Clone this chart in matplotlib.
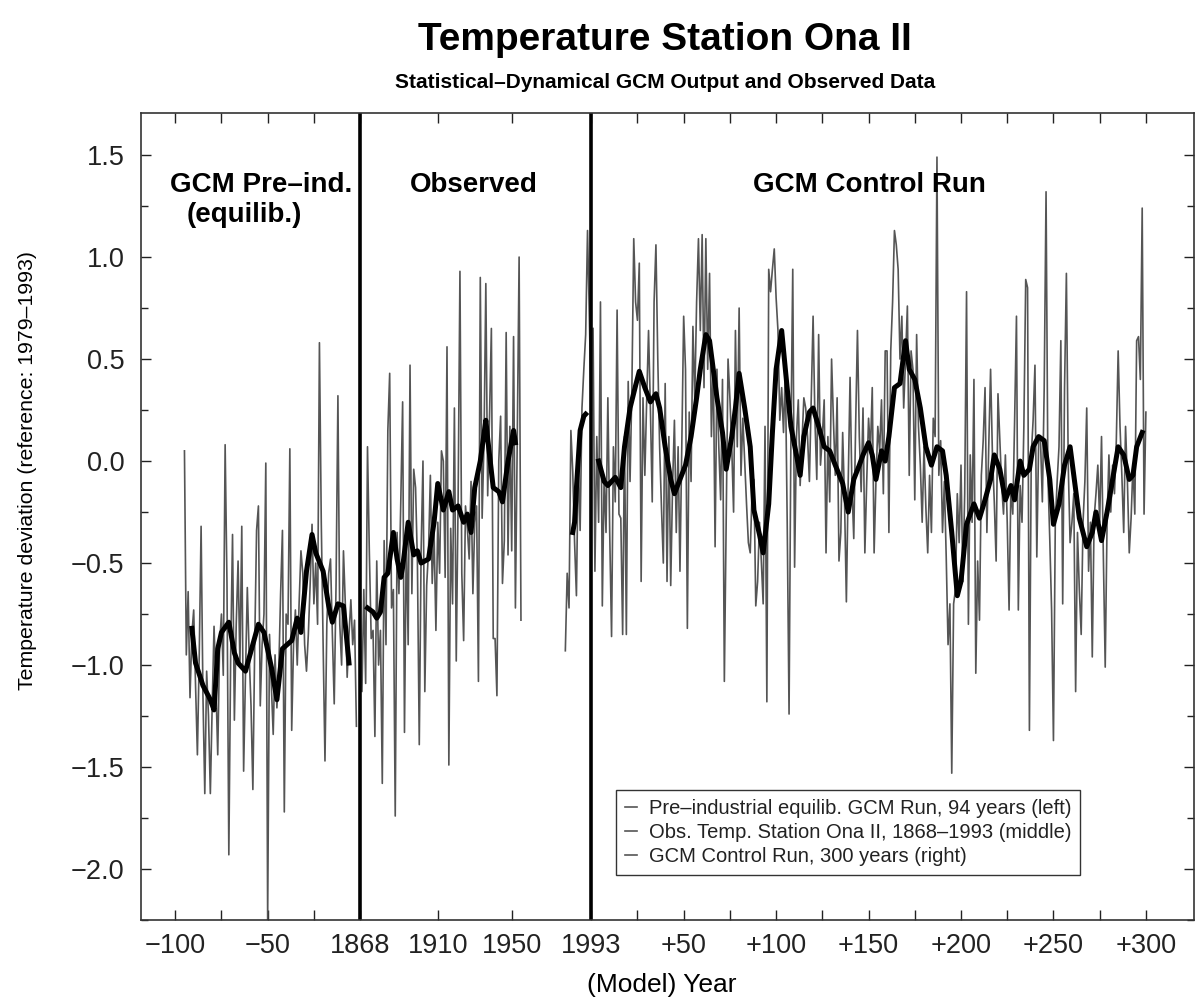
import numpy as np
import matplotlib.pyplot as plt

plt.rcParams['font.family'] = ['Liberation Sans', 'DejaVu Sans']

# pre-industrial equilibrium run, 94 years (plotted left of 1868)
pre_years = np.arange(-95, -1)
pre_vals = [0.05, -0.95, -0.64, -1.16, -0.85, -0.73, -1.10, -1.44, -0.95, -0.32,
            -1.15, -1.63, -1.03, -1.25, -1.63, -1.20, -0.81, -1.10, -1.44, -0.90,
            -0.75, -1.05, 0.08, -0.60, -1.93, -0.95, -0.36, -1.27, -0.80, -0.49,
            -1.00, -0.32, -1.52, -1.05, -0.62, -0.95, -1.20, -1.61, -0.90, -0.34,
            -0.22, -1.20, -0.90, -0.75, -0.01, -2.25, -0.85, -1.10, -1.34, -0.95,
            -1.21, -1.03, -0.65, -0.34, -1.72, -0.75, -0.80, 0.06, -1.32, -0.90,
            -0.73, -1.00, -0.70, -0.44, -0.55, -0.90, -1.03, -0.85, -0.60, -0.31,
            -0.70, -0.50, -0.80, 0.58, -0.30, -0.90, -1.47, -0.80, -0.55, -0.48,
            -0.85, -1.19, -0.60, 0.32, -0.80, -1.00, -0.44, -0.70, -1.06, -0.85,
            -0.68, -0.90, -0.78, -1.30]
pre_smooth_u = [-91, -89, -85, -81, -79, -77, -75, -71, -68, -66, -62, -55, -52, -48,
                -45, -42, -37, -34, -32, -29, -26, -24, -20, -17, -15, -12, -9, -6]
pre_smooth_v = [-0.82, -0.99, -1.10, -1.17, -1.22, -0.92, -0.84, -0.79, -0.94, -0.99,
                -1.03, -0.80, -0.84, -1.01, -1.17, -0.92, -0.88, -0.77, -0.84, -0.54,
                -0.36, -0.45, -0.54, -0.71, -0.79, -0.70, -0.71, -0.99]

# observed station record
obs_years = np.arange(1868, 1956)
obs_vals = [-0.75, -1.13, -0.63, -1.09, 0.07, -0.45, -0.87, -0.83, -1.35, -0.49,
            -1.00, -0.83, -1.58, -0.39, -0.90, 0.15, 0.43, -0.72, -0.63, -1.74,
            -0.35, -0.65, -0.20, 0.29, -1.33, -0.37, -0.90, 0.47, -0.65, -0.04,
            -0.13, -0.50, -1.39, -0.44, 0.00, -1.13, -0.61, -0.44, -0.07, -0.60,
            -0.35, -0.83, -0.30, -0.55, 0.05, 0.00, -0.57, 0.56, -1.49, -0.33,
            -0.70, 0.26, -0.98, -0.20, 0.93, -0.55, -0.88, -0.22, -0.33, -0.48,
            -0.10, -0.65, -0.30, -0.22, -1.08, 0.90, -0.28, 0.09, 0.87, -0.17,
            0.22, 0.65, -0.87, -0.87, -1.15, 0.00, 0.22, -0.60, -0.39, 0.63,
            -0.46, 0.17, -0.44, 0.61, -0.72, 0.11, 1.00, -0.78]
obs_late_years = np.arange(1979, 1994)
obs_late_vals = [-0.93, -0.55, -0.72, 0.15, -0.05, -0.40, -0.66, 0.02, -0.34, 0.26,
                 0.45, 0.62, 1.13, 0.70, 0.25]
obs_smooth_yr = [1872, 1875, 1877, 1879, 1881, 1883, 1886, 1888, 1890, 1891, 1894,
                 1897, 1899, 1901, 1905, 1908, 1910, 1913, 1916, 1918, 1921, 1924,
                 1926, 1928, 1930, 1933, 1936, 1937, 1940, 1943, 1945, 1948, 1951, 1952]
obs_smooth_v = [-0.72, -0.74, -0.77, -0.74, -0.57, -0.55, -0.35, -0.48, -0.57, -0.52,
                -0.30, -0.46, -0.44, -0.50, -0.48, -0.30, -0.11, -0.24, -0.15, -0.24,
                -0.22, -0.30, -0.26, -0.35, -0.13, 0.00, 0.20, 0.11, -0.13, -0.15,
                -0.20, 0.00, 0.15, 0.09]
obs_late_smooth_yr = [1983, 1984, 1985, 1987, 1989, 1990]
obs_late_smooth_v = [-0.35, -0.30, -0.13, 0.15, 0.22, 0.23]

# GCM control run, 300 years (plotted right of 1993)
ctl_years = np.arange(1, 301)
ctl_vals = [0.65, -0.54, 0.12, -0.30, 0.78, -0.71, -0.07, -0.35, 0.31, -0.35,
            -0.86, 0.07, -0.20, 0.74, -0.26, -0.28, -0.85, 0.12, -0.85, 0.39,
            -0.10, 0.36, 1.09, 0.78, 0.69, 0.97, -0.59, 0.31, -0.07, 0.30,
            0.64, 0.26, -0.20, 0.78, 1.06, 0.50, 0.07, -0.23, -0.50, 0.38,
            -0.59, 0.12, -0.61, -0.12, 0.20, -0.35, 0.07, -0.54, 0.10, 0.71,
            0.45, -0.82, 0.24, -0.10, 0.66, 0.30, 0.78, 1.09, 0.64, 1.11,
            0.36, 1.09, 0.45, 0.92, 0.12, 0.50, -0.42, 0.45, 0.07, -0.19,
            0.40, -1.08, -0.30, 0.50, 0.31, 0.07, -0.25, 0.64, 0.07, 0.75,
            -0.07, 0.21, 0.00, -0.21, -0.40, -0.45, -0.15, -0.09, -0.71, -0.59,
            -0.30, -0.49, -0.70, 0.17, -1.18, 0.94, 0.83, 0.94, 1.04, 0.80,
            0.64, 0.20, 0.36, 0.14, 0.45, -0.30, -1.24, 0.12, 0.94, -0.52,
            0.12, 0.30, -0.12, 0.10, 0.31, 0.26, 0.12, -0.10, 0.31, 0.71,
            0.20, -0.09, 0.62, -0.02, 0.12, 0.30, -0.45, 0.12, -0.20, 0.50,
            0.20, -0.07, 0.31, -0.49, -0.35, 0.14, -0.19, -0.69, -0.10, 0.41,
            -0.12, -0.38, 0.17, 0.64, 0.12, -0.15, 0.26, -0.45, -0.10, 0.21,
            0.05, 0.36, -0.45, -0.10, 0.17, 0.05, 0.30, -0.16, 0.54, 0.54,
            -0.35, 0.54, 0.78, 1.13, 1.06, 0.94, 0.50, 0.71, 0.26, 0.50,
            0.76, -0.07, 0.54, 0.45, -0.19, 0.62, 0.17, -0.02, -0.30, 0.07,
            -0.23, -0.45, -0.07, -0.35, 0.21, 0.12, 1.49, -0.07, 0.10, -0.35,
            -0.10, -0.47, -0.90, -0.70, -1.53, -0.70, -0.63, -0.16, -0.40, -0.02,
            -0.59, -0.16, 0.83, -0.80, 0.03, -0.30, 0.40, -1.04, -0.49, -0.78,
            -0.07, 0.10, 0.36, -0.35, 0.07, 0.45, 0.03, -0.20, -0.49, 0.33,
            0.10, -0.12, -0.26, 0.03, -0.30, -0.73, -0.12, -0.26, 0.20, 0.71,
            -0.73, -0.12, -0.30, 0.17, 0.89, 0.85, -1.32, 0.03, 0.20, 0.47,
            -0.47, 0.10, 0.10, -0.20, 0.36, 1.32, -0.07, -0.38, -0.73, -1.37,
            -0.30, -0.10, 0.07, 0.59, -0.70, 0.36, 0.92, -0.02, -0.40, -0.30,
            -0.16, -1.13, -0.35, -0.63, -0.85, -0.30, -0.10, 0.26, -0.54, -0.30,
            -0.96, -0.28, -0.16, -0.02, -0.30, 0.12, -0.47, -1.01, -0.30, 0.03,
            -0.25, -0.02, -0.16, 0.10, 0.54, 0.17, -0.07, -0.35, 0.17, -0.10,
            -0.45, -0.28, -0.02, -0.26, 0.59, 0.61, 0.40, 1.24, -0.26, 0.24]
ctl_smooth_k = [4, 7, 9, 13, 16, 18, 21, 24, 26, 29, 32, 35, 37, 40, 43, 45, 48, 51,
                54, 57, 59, 62, 64, 66, 68, 71, 73, 76, 78, 80, 83, 86, 88, 91, 93,
                96, 98, 100, 103, 105, 108, 111, 113, 115, 118, 120, 123, 126, 129,
                132, 136, 139, 142, 145, 147, 150, 152, 154, 157, 159, 161, 164, 167,
                170, 172, 175, 178, 181, 184, 187, 190, 192, 195, 198, 200, 203, 207,
                210, 213, 216, 218, 221, 224, 227, 229, 232, 234, 237, 239, 242, 245,
                248, 250, 253, 256, 259, 261, 264, 268, 271, 273, 276, 279, 282, 285,
                288, 291, 293, 295, 298]
ctl_smooth_v = [0.00, -0.10, -0.12, -0.08, -0.13, 0.07, 0.26, 0.37, 0.44, 0.36,
                0.29, 0.33, 0.26, 0.07, -0.09, -0.16, -0.09, -0.02, 0.12, 0.31,
                0.45, 0.62, 0.59, 0.45, 0.31, 0.14, -0.04, 0.12, 0.26, 0.43,
                0.26, 0.07, -0.24, -0.36, -0.45, -0.21, 0.14, 0.45, 0.64, 0.45,
                0.17, 0.03, -0.07, 0.12, 0.24, 0.26, 0.17, 0.07, 0.05, -0.02,
                -0.11, -0.25, -0.09, -0.02, 0.03, 0.09, 0.03, -0.09, 0.05, 0.00,
                0.12, 0.36, 0.38, 0.59, 0.45, 0.40, 0.26, 0.07, -0.02, 0.07,
                0.05, -0.07, -0.35, -0.66, -0.59, -0.31, -0.21, -0.28, -0.19, -0.09,
                0.03, -0.04, -0.19, -0.12, -0.19, 0.00, -0.07, -0.04, 0.07, 0.12,
                0.10, -0.09, -0.31, -0.21, -0.02, 0.07, -0.07, -0.28, -0.42, -0.35,
                -0.25, -0.39, -0.25, -0.09, 0.07, 0.03, -0.09, -0.07, 0.07, 0.14]

tick_pos = [-100, -50, 0, 42, 82, 125, 175, 225, 275, 325, 375, 425]
tick_lab = ['\u2212100', '\u221250', '1868', '1910', '1950', '1993',
            '+50', '+100', '+150', '+200', '+250', '+300']
minor_pos = [-75, -25, 150, 200, 250, 300, 350, 400]

fig = plt.figure(figsize=(11.96, 9.97), dpi=100)
ax = fig.add_axes([0.1179, 0.0772, 0.8804, 0.8094])

gray = '#555555'
l1, = ax.plot(pre_years, pre_vals, color=gray, lw=1.2)
l2, = ax.plot(obs_years - 1868, obs_vals, color=gray, lw=1.2)
ax.plot(obs_late_years - 1868, obs_late_vals, color=gray, lw=1.2)
l3, = ax.plot(125 + ctl_years, ctl_vals, color=gray, lw=1.2)

ax.plot(pre_smooth_u, pre_smooth_v, color='black', lw=3.6, solid_joinstyle='round')
ax.plot(np.array(obs_smooth_yr) - 1868, obs_smooth_v, color='black', lw=3.6,
        solid_joinstyle='round')
ax.plot(np.array(obs_late_smooth_yr) - 1868, obs_late_smooth_v, color='black', lw=3.6)
ax.plot(125 + np.array(ctl_smooth_k), ctl_smooth_v, color='black', lw=3.6,
        solid_joinstyle='round')

ax.axvline(0, color='black', lw=2.6)
ax.axvline(125, color='black', lw=2.6)

ax.set_xlim(-118.5, 451)
ax.set_ylim(-2.25, 1.706)
ax.set_xticks(tick_pos)
ax.set_xticklabels(tick_lab)
ax.set_xticks(minor_pos, minor=True)
ax.set_yticks(np.arange(-2.0, 1.51, 0.5))
ax.set_yticklabels(['\u2212%.1f' % -v if v < 0 else '%.1f' % v
                    for v in np.arange(-2.0, 1.51, 0.5)])
ax.set_yticks(np.arange(-2.25, 1.7, 0.25), minor=True)
ax.tick_params(axis='both', which='both', direction='in', top=True, right=True,
               width=1.0, colors='#222222')
ax.tick_params(axis='x', which='both', length=7, labelsize=19.5, pad=9)
ax.tick_params(axis='y', which='major', length=7, labelsize=19.5, pad=12)
ax.tick_params(axis='y', which='minor', length=5)
for s in ax.spines.values():
    s.set_linewidth(1.2)
    s.set_color('#333333')

ax.text(-103, 1.353, 'GCM Pre\u2013ind.', fontsize=20, fontweight='bold', va='center')
ax.text(-94, 1.206, '(equilib.)', fontsize=20, fontweight='bold', va='center')
ax.text(61.5, 1.353, 'Observed', fontsize=20, fontweight='bold', ha='center', va='center')
ax.text(275.7, 1.353, 'GCM Control Run', fontsize=20, fontweight='bold',
        ha='center', va='center')

leg = ax.legend([l1, l2, l3],
                ['Pre\u2013industrial equilib. GCM Run, 94 years (left)',
                 'Obs. Temp. Station Ona II, 1868\u20131993 (middle)',
                 'GCM Control Run, 300 years (right)'],
                loc='lower left', bbox_to_anchor=(0.4507, 0.0558), borderaxespad=0,
                fancybox=False, edgecolor='#333333', framealpha=1, fontsize=14.5,
                handlelength=0.6, handletextpad=0.6, labelspacing=0.25, borderpad=0.45)
leg.get_frame().set_linewidth(1.0)
for t in leg.get_texts():
    t.set_color('#222222')

fig.text(0.556, 1 - 40 / 997, 'Temperature Station Ona II', ha='center', va='center',
         fontsize=28, fontweight='bold')
fig.text(0.556, 1 - 83 / 997, 'Statistical\u2013Dynamical GCM Output and Observed Data',
         ha='center', va='center', fontsize=15, fontweight='bold')
fig.text(28 / 1196, 1 - 470 / 997, 'Temperature deviation (reference: 1979\u20131993)',
         rotation=90, ha='center', va='center', fontsize=15.3)
fig.text(662 / 1196, 1 - 985 / 997, '(Model) Year', ha='center', va='center', fontsize=19)

fig.savefig('out.png', dpi=100)
